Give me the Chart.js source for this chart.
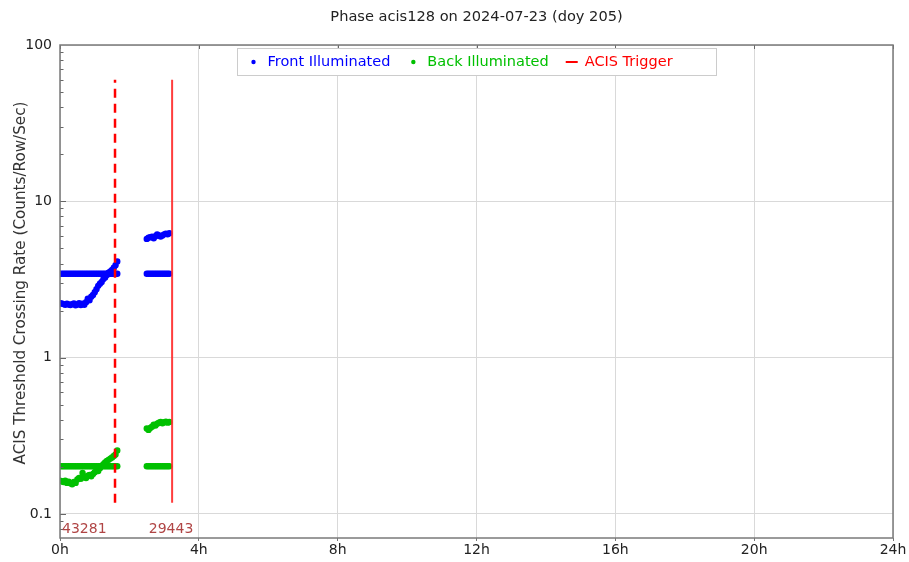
<!DOCTYPE html>
<html>
<head>
<meta charset="utf-8">
<script src="https://cdn.jsdelivr.net/npm/chart.js@4/dist/chart.umd.min.js"></script>
<style>
  html, body { margin: 0; padding: 0; background: #fff; }
  #wrap { width: 909px; height: 562px; }
</style>
</head>
<body>
<div id="wrap"><canvas id="c" width="909" height="562"></canvas></div>
<script>
// Hours since start of day, first and second observation stretch
const hoursA = [0.00,0.05,0.10,0.15,0.20,0.25,0.30,0.35,0.40,0.45,0.50,0.55,0.60,0.65,0.70,0.75,0.80,0.85,0.90,0.95,1.00,1.05,1.10,1.15,1.20,1.25,1.30,1.35,1.40,1.45,1.50,1.55,1.60,1.65];
const hoursB = [2.50,2.55,2.60,2.65,2.70,2.75,2.80,2.85,2.90,2.95,3.00,3.05,3.10,3.15];

// Front illuminated rates (counts/row/sec)
const frontRateA = [2.23,2.22,2.20,2.18,2.21,2.19,2.17,2.20,2.22,2.16,2.19,2.23,2.17,2.21,2.18,2.26,2.38,2.33,2.45,2.52,2.62,2.74,2.88,2.97,3.05,3.18,3.26,3.38,3.50,3.56,3.64,3.76,3.90,4.12];
const frontRateB = [5.75,5.85,5.90,5.95,5.80,5.98,6.15,6.05,5.95,6.05,6.15,6.20,6.15,6.25];
const frontLimitA = [3.44,3.44,3.44,3.44,3.44,3.44,3.44,3.44,3.44,3.44,3.44,3.44,3.44,3.44,3.44,3.44,3.44,3.44,3.44,3.44,3.44,3.44,3.44,3.44,3.44,3.44,3.44,3.44,3.44,3.44,3.44,3.44,3.44,3.44];
const frontLimitB = [3.44,3.44,3.44,3.44,3.44,3.44,3.44,3.44,3.44,3.44,3.44,3.44,3.44,3.44];

// Back illuminated rates (counts/row/sec)
const backRateA = [0.163,0.162,0.160,0.163,0.158,0.161,0.157,0.155,0.160,0.158,0.166,0.170,0.168,0.183,0.172,0.170,0.176,0.178,0.174,0.180,0.185,0.190,0.188,0.196,0.203,0.208,0.214,0.218,0.222,0.226,0.230,0.235,0.240,0.255];
const backRateB = [0.352,0.345,0.355,0.362,0.372,0.368,0.378,0.384,0.388,0.380,0.386,0.390,0.384,0.388];
const backLimitA = [0.202,0.202,0.202,0.202,0.202,0.202,0.202,0.202,0.202,0.202,0.202,0.202,0.202,0.202,0.202,0.202,0.202,0.202,0.202,0.202,0.202,0.202,0.202,0.202,0.202,0.202,0.202,0.202,0.202,0.202,0.202,0.202,0.202,0.202];
const backLimitB = [0.202,0.202,0.202,0.202,0.202,0.202,0.202,0.202,0.202,0.202,0.202,0.202,0.202,0.202];

// ACIS trigger markers
const triggerHours = [1.585, 3.23];
const triggerDashed = [true, false];
const triggerLow = 0.118;
const triggerHigh = 60;

// Per-observation event counts, written at each stretch's start
const obsStartHours = [0.0, 2.5];
const obsCounts = ['43281', '29443'];

// Axis ticks
const xTickHours = [0, 4, 8, 12, 16, 20, 24];
const yTickValues = [0.1, 1, 10, 100];

const titleText = 'Phase acis128 on 2024-07-23 (doy 205)';
const yTitleText = 'ACIS Threshold Crossing Rate (Counts/Row/Sec)';

const BLUE = '#0000ff';
const GREEN = '#00c000';
const RED = '#ff0000';
const FONT = '"DejaVu Sans", sans-serif';

function pts(xs, ys) { return xs.map((x, i) => ({ x: x, y: ys[i] })); }

const frontPoints = [].concat(pts(hoursA, frontLimitA), pts(hoursA, frontRateA), pts(hoursB, frontLimitB), pts(hoursB, frontRateB));
const backPoints = [].concat(pts(hoursA, backLimitA), pts(hoursA, backRateA), pts(hoursB, backLimitB), pts(hoursB, backRateB));

const triggerSets = triggerHours.map((h, i) => ({
  label: 'ACIS Trigger',
  type: 'line',
  data: [{ x: h, y: triggerLow }, { x: h, y: triggerHigh }],
  showLine: true,
  borderColor: triggerDashed[i] ? RED : 'rgba(255,40,40,0.9)',
  borderWidth: triggerDashed[i] ? 2.5 : 2,
  borderDash: triggerDashed[i] ? [9, 6] : [],
  pointRadius: 0,
  fill: false,
  order: 0
}));

// Frame, inner ticks, title, axis title, count labels, legend box
const decorPlugin = {
  id: 'decor',
  afterDraw(chart) {
    const ctx = chart.ctx;
    const a = chart.chartArea;
    const xs = chart.scales.x, ys = chart.scales.y;
    ctx.save();

    // minor / major ticks inside the left edge
    ctx.strokeStyle = '#666';
    ctx.lineWidth = 1;
    for (let d = -2; d <= 1; d++) {
      for (let k = 1; k <= 9; k++) {
        const v = k * Math.pow(10, d);
        if (v < ys.min || v > ys.max) continue;
        const py = Math.round(ys.getPixelForValue(v)) + 0.5;
        const len = k === 1 ? 6 : 3.5;
        ctx.beginPath();
        ctx.moveTo(a.left, py);
        ctx.lineTo(a.left + len, py);
        ctx.stroke();
      }
    }
    // ticks inside the top edge
    xTickHours.forEach(h => {
      const px = Math.round(xs.getPixelForValue(h)) + 0.5;
      ctx.beginPath();
      ctx.moveTo(px, a.top);
      ctx.lineTo(px, a.top + 4);
      ctx.stroke();
    });

    // frame
    ctx.strokeStyle = '#7a7a7a';
    ctx.lineWidth = 1.5;
    ctx.strokeRect(a.left, a.top, a.right - a.left, a.bottom - a.top);

    // count labels
    ctx.fillStyle = '#b04545';
    ctx.font = '14px ' + FONT;
    ctx.textAlign = 'left';
    ctx.textBaseline = 'alphabetic';
    obsStartHours.forEach((h, i) => {
      ctx.fillText(obsCounts[i], xs.getPixelForValue(h) + 2, a.bottom - 5);
    });

    // title
    const cx = (a.left + a.right) / 2;
    ctx.fillStyle = '#222';
    ctx.font = '14.6px ' + FONT;
    ctx.textAlign = 'center';
    ctx.textBaseline = 'middle';
    ctx.fillText(titleText, cx, 17);

    // y axis title
    ctx.save();
    ctx.translate(21, 283);
    ctx.rotate(-Math.PI / 2);
    ctx.fillStyle = '#333';
    ctx.font = '15.2px ' + FONT;
    ctx.fillText(yTitleText, 0, 0);
    ctx.restore();

    // legend
    const items = [
      { text: 'Front Illuminated', color: BLUE, kind: 'dot' },
      { text: 'Back Illuminated', color: GREEN, kind: 'dot' },
      { text: 'ACIS Trigger', color: RED, kind: 'line' }
    ];
    ctx.font = '14.5px ' + FONT;
    const boxW = 479, boxH = 27;
    const bx = Math.round(cx - boxW / 2) + 0.5, by = a.top + 3.5;
    ctx.fillStyle = '#fff';
    ctx.fillRect(bx, by, boxW, boxH);
    ctx.strokeStyle = '#cccccc';
    ctx.lineWidth = 1;
    ctx.strokeRect(bx, by, boxW, boxH);
    let x = bx + 16;
    const my = by + boxH / 2;
    items.forEach(it => {
      ctx.fillStyle = it.color;
      ctx.strokeStyle = it.color;
      if (it.kind === 'dot') {
        ctx.beginPath();
        ctx.arc(x, my, 2.2, 0, Math.PI * 2);
        ctx.fill();
      } else {
        ctx.lineWidth = 2;
        ctx.beginPath();
        ctx.moveTo(x - 6, my);
        ctx.lineTo(x + 6, my);
        ctx.stroke();
      }
      ctx.textAlign = 'left';
      ctx.textBaseline = 'middle';
      const tx = x + (it.kind === 'dot' ? 14 : 13);
      ctx.fillText(it.text, tx, my);
      x = tx + ctx.measureText(it.text).width + 23;
    });

    ctx.restore();
  }
};

new Chart(document.getElementById('c'), {
  type: 'scatter',
  data: {
    datasets: [
      ...triggerSets,
      {
        label: 'Front Illuminated',
        data: frontPoints,
        backgroundColor: BLUE,
        borderColor: BLUE,
        pointRadius: 3.2,
        pointBorderWidth: 0,
        order: 2
      },
      {
        label: 'Back Illuminated',
        data: backPoints,
        backgroundColor: GREEN,
        borderColor: GREEN,
        pointRadius: 3.2,
        pointBorderWidth: 0,
        order: 1
      }
    ]
  },
  options: {
    responsive: false,
    animation: false,
    events: [],
    layout: { padding: { top: 45, right: 16, left: 0, bottom: 0 } },
    plugins: {
      legend: { display: false },
      title: { display: false },
      tooltip: { enabled: false }
    },
    scales: {
      x: {
        type: 'linear',
        min: 0,
        max: 24,
        afterFit(s) { s.height = 24; },
        afterBuildTicks(s) { s.ticks = xTickHours.map(v => ({ value: v })); },
        ticks: {
          callback: v => v + 'h',
          font: { family: FONT, size: 14 },
          color: '#222',
          padding: 1,
          maxRotation: 0
        },
        grid: { color: '#d9d9d9', lineWidth: 1, tickLength: 3, tickColor: '#777' },
        border: { display: false }
      },
      y: {
        type: 'logarithmic',
        min: 0.0702,
        max: 100,
        afterFit(s) { s.width = 60; },
        afterBuildTicks(s) { s.ticks = yTickValues.map(v => ({ value: v, major: true })); },
        ticks: {
          callback: v => String(v),
          font: { family: FONT, size: 14 },
          color: '#222',
          padding: 8
        },
        grid: { color: '#d9d9d9', lineWidth: 1, drawTicks: false, tickLength: 0 },
        border: { display: false }
      }
    }
  },
  plugins: [decorPlugin]
});
</script>
</body>
</html>
